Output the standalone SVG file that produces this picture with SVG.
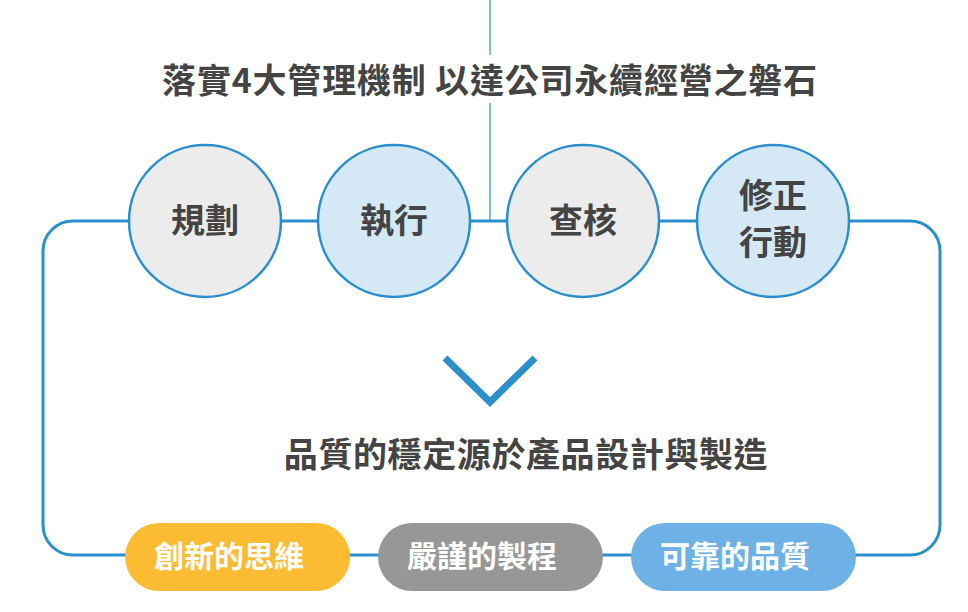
<svg xmlns="http://www.w3.org/2000/svg" width="968" height="612" viewBox="0 0 968 612">
<style>
.t{font-family:"Noto Sans CJK TC","Noto Sans CJK SC",sans-serif;font-weight:bold;text-anchor:middle}
.dark{fill:#444444}
.wh{fill:#ffffff}
.ln{fill:none;stroke:#2b8ecd;stroke-width:3}
.c{stroke:#2b8ecd;stroke-width:2.5}
.g{fill:#ececec}
.b{fill:#d4e8f6}
</style>
<rect width="968" height="612" fill="#ffffff"/>
<g id="connectors">
<line x1="490" y1="0" x2="490" y2="55" stroke="#2b8ecd" stroke-width="1.2"/>
<line x1="490" y1="103" x2="490" y2="221" stroke="#2b8ecd" stroke-width="1.2"/>
<path class="ln" d="M 205 221 H 73 A 30 30 0 0 0 43 251 V 525 A 30 30 0 0 0 73 555 H 910 A 30 30 0 0 0 940 525 V 251 A 30 30 0 0 0 910 221 H 205"/>
<path d="M 445 358 L 490 402 L 535 358" fill="none" stroke="#2b8ecd" stroke-width="7"/>
</g>
<g id="title"><text class="t dark" x="490" y="93" font-size="34" letter-spacing="0.8">落實4大管理機制 以達公司永續經營之磐石</text></g>
<g id="node-plan"><circle class="c g" cx="205" cy="221" r="76"/><text class="t dark" x="205" y="233" font-size="34">規劃</text></g>
<g id="node-do"><circle class="c b" cx="394" cy="221" r="76"/><text class="t dark" x="394" y="233" font-size="34">執行</text></g>
<g id="node-check"><circle class="c g" cx="583" cy="221" r="76"/><text class="t dark" x="583" y="233" font-size="34">查核</text></g>
<g id="node-act"><circle class="c b" cx="773" cy="221" r="76"/><text class="t dark" x="773" y="208" font-size="34">修正</text><text class="t dark" x="773" y="255" font-size="34">行動</text></g>
<g id="subtitle"><text class="t dark" x="526" y="467" font-size="34" letter-spacing="0.6">品質的穩定源於產品設計與製造</text></g>
<g id="pill-innovation"><rect x="125" y="523" width="225" height="68" rx="34" fill="#fbbc33"/><text class="t wh" x="229" y="567" font-size="30">創新的思維</text></g>
<g id="pill-process"><rect x="378" y="523" width="225" height="68" rx="34" fill="#979797"/><text class="t wh" x="482" y="567" font-size="30">嚴謹的製程</text></g>
<g id="pill-quality"><rect x="631" y="523" width="225" height="68" rx="34" fill="#6eb1e6"/><text class="t wh" x="735" y="567" font-size="30">可靠的品質</text></g>
</svg>
